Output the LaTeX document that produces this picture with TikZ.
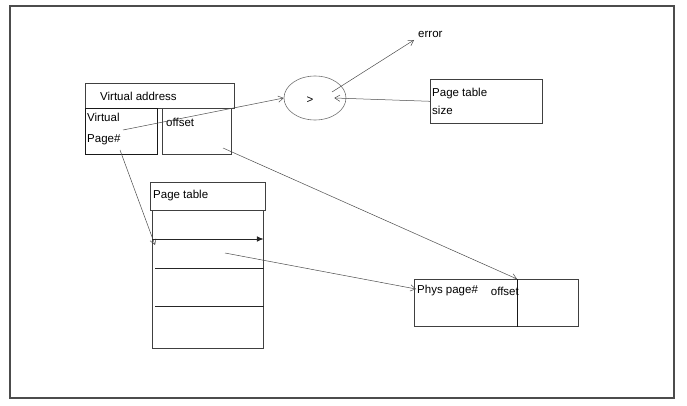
\documentclass[tikz,border=0pt]{standalone}
\usepackage{fontspec}
\setmainfont{Liberation Sans}
\usetikzlibrary{arrows.meta,shapes.geometric}

\tikzset{
  box/.style={draw=black!75, line width=0.6pt, rectangle, anchor=north west, inner sep=0pt},
  lbl/.style={font=\fontsize{11.5}{13}\selectfont, inner sep=1pt, align=left},
  wire/.style={draw=black!70, line width=0.5pt, -{Straight Barb[length=1.8mm,width=2.2mm]}},
}

\begin{document}
\begin{tikzpicture}[x=1pt, y=-1pt]
	\useasboundingbox (0,0) rectangle (687,406);
	\draw[black!70, line width=1.4pt] (10,6) rectangle (674,398);
	% virtual address
	\node[box, minimum width=149pt, minimum height=25pt] (va) at (85,83) {};
	\node[lbl, anchor=west] (valbl) at (99,96) {Virtual address};
	\node[box, line width=1pt, draw=black!90, minimum width=72pt, minimum height=46pt] (vpn) at (85,108) {};
	\node[lbl, anchor=north west, font=\fontsize{11.5}{21}\selectfont] (vpnlbl) at ([shift={(1,4)}]vpn.north west) {Virtual\\Page\#};
	\node[box, minimum width=69pt, minimum height=46pt] (off) at (162,108) {};
	\node[lbl, anchor=north west] (offlbl) at ([shift={(3,9)}]off.north west) {offset};
	% compare
	\node[draw=black!55, line width=0.6pt, ellipse, minimum width=62pt, minimum height=44pt] (cmp) at (315,98) {};
	\node[lbl] (gt) at (310,100) {>};
	\node[box, minimum width=112pt, minimum height=44pt] (pts) at (430,79) {};
	\node[lbl, anchor=north west, font=\fontsize{11.5}{18}\selectfont] (ptslbl) at ([shift={(1,8)}]pts.north west) {Page table\\size};
	\node[lbl, anchor=west] (err) at (417,34) {error};
	% page table
	\node[box, minimum width=115pt, minimum height=28pt] (pth) at (150,182) {};
	\node[lbl, anchor=west] (pthlbl) at (152,196) {Page table};
	\node[box, minimum width=111pt, minimum height=138pt] (pt) at (152,210) {};
	\foreach \y in {268,306} {\draw[black!85, line width=1pt] (155,\y) -- (pt.east |- 0,\y);}
	% physical address
	\node[box, minimum width=164pt, minimum height=47pt] (phys) at (414,279) {};
	\draw[black!90, line width=0.9pt] ([xshift=103pt]phys.north west) -- ([xshift=103pt]phys.south west);
	\node[lbl, anchor=west] (physlbl) at (416,291) {Phys page\#};
	\node[lbl, anchor=east] (physoff) at (520,291) {offset};
	% connectors
	\coordinate (vpnout) at (123,130);
	\coordinate (vpndown) at (120,150);
	\coordinate (ptrow) at (155,245);
	\coordinate (rowL) at (152,239);
	\coordinate (frm) at (225,253);
	\coordinate (offout) at (223,148);
	\draw[wire] (vpnout) -- (cmp.west);
	\draw[wire] (pts.west) -- ([xshift=-12pt]cmp.east);
	\draw[wire] ([shift={(17,-6)}]cmp.center) -- ([shift={(-3,6)}]err.west);
	\draw[wire] (vpndown) -- (ptrow);
	\draw[black!85, line width=0.8pt, -{Latex[length=2.4mm,width=2mm]}] (rowL) -- (pt.east |- rowL);
	\draw[wire] (frm) -- ([shift={(2,10)}]phys.north west);
	\draw[wire] (offout) -- ([xshift=103pt]phys.north west);
\end{tikzpicture}
\end{document}
